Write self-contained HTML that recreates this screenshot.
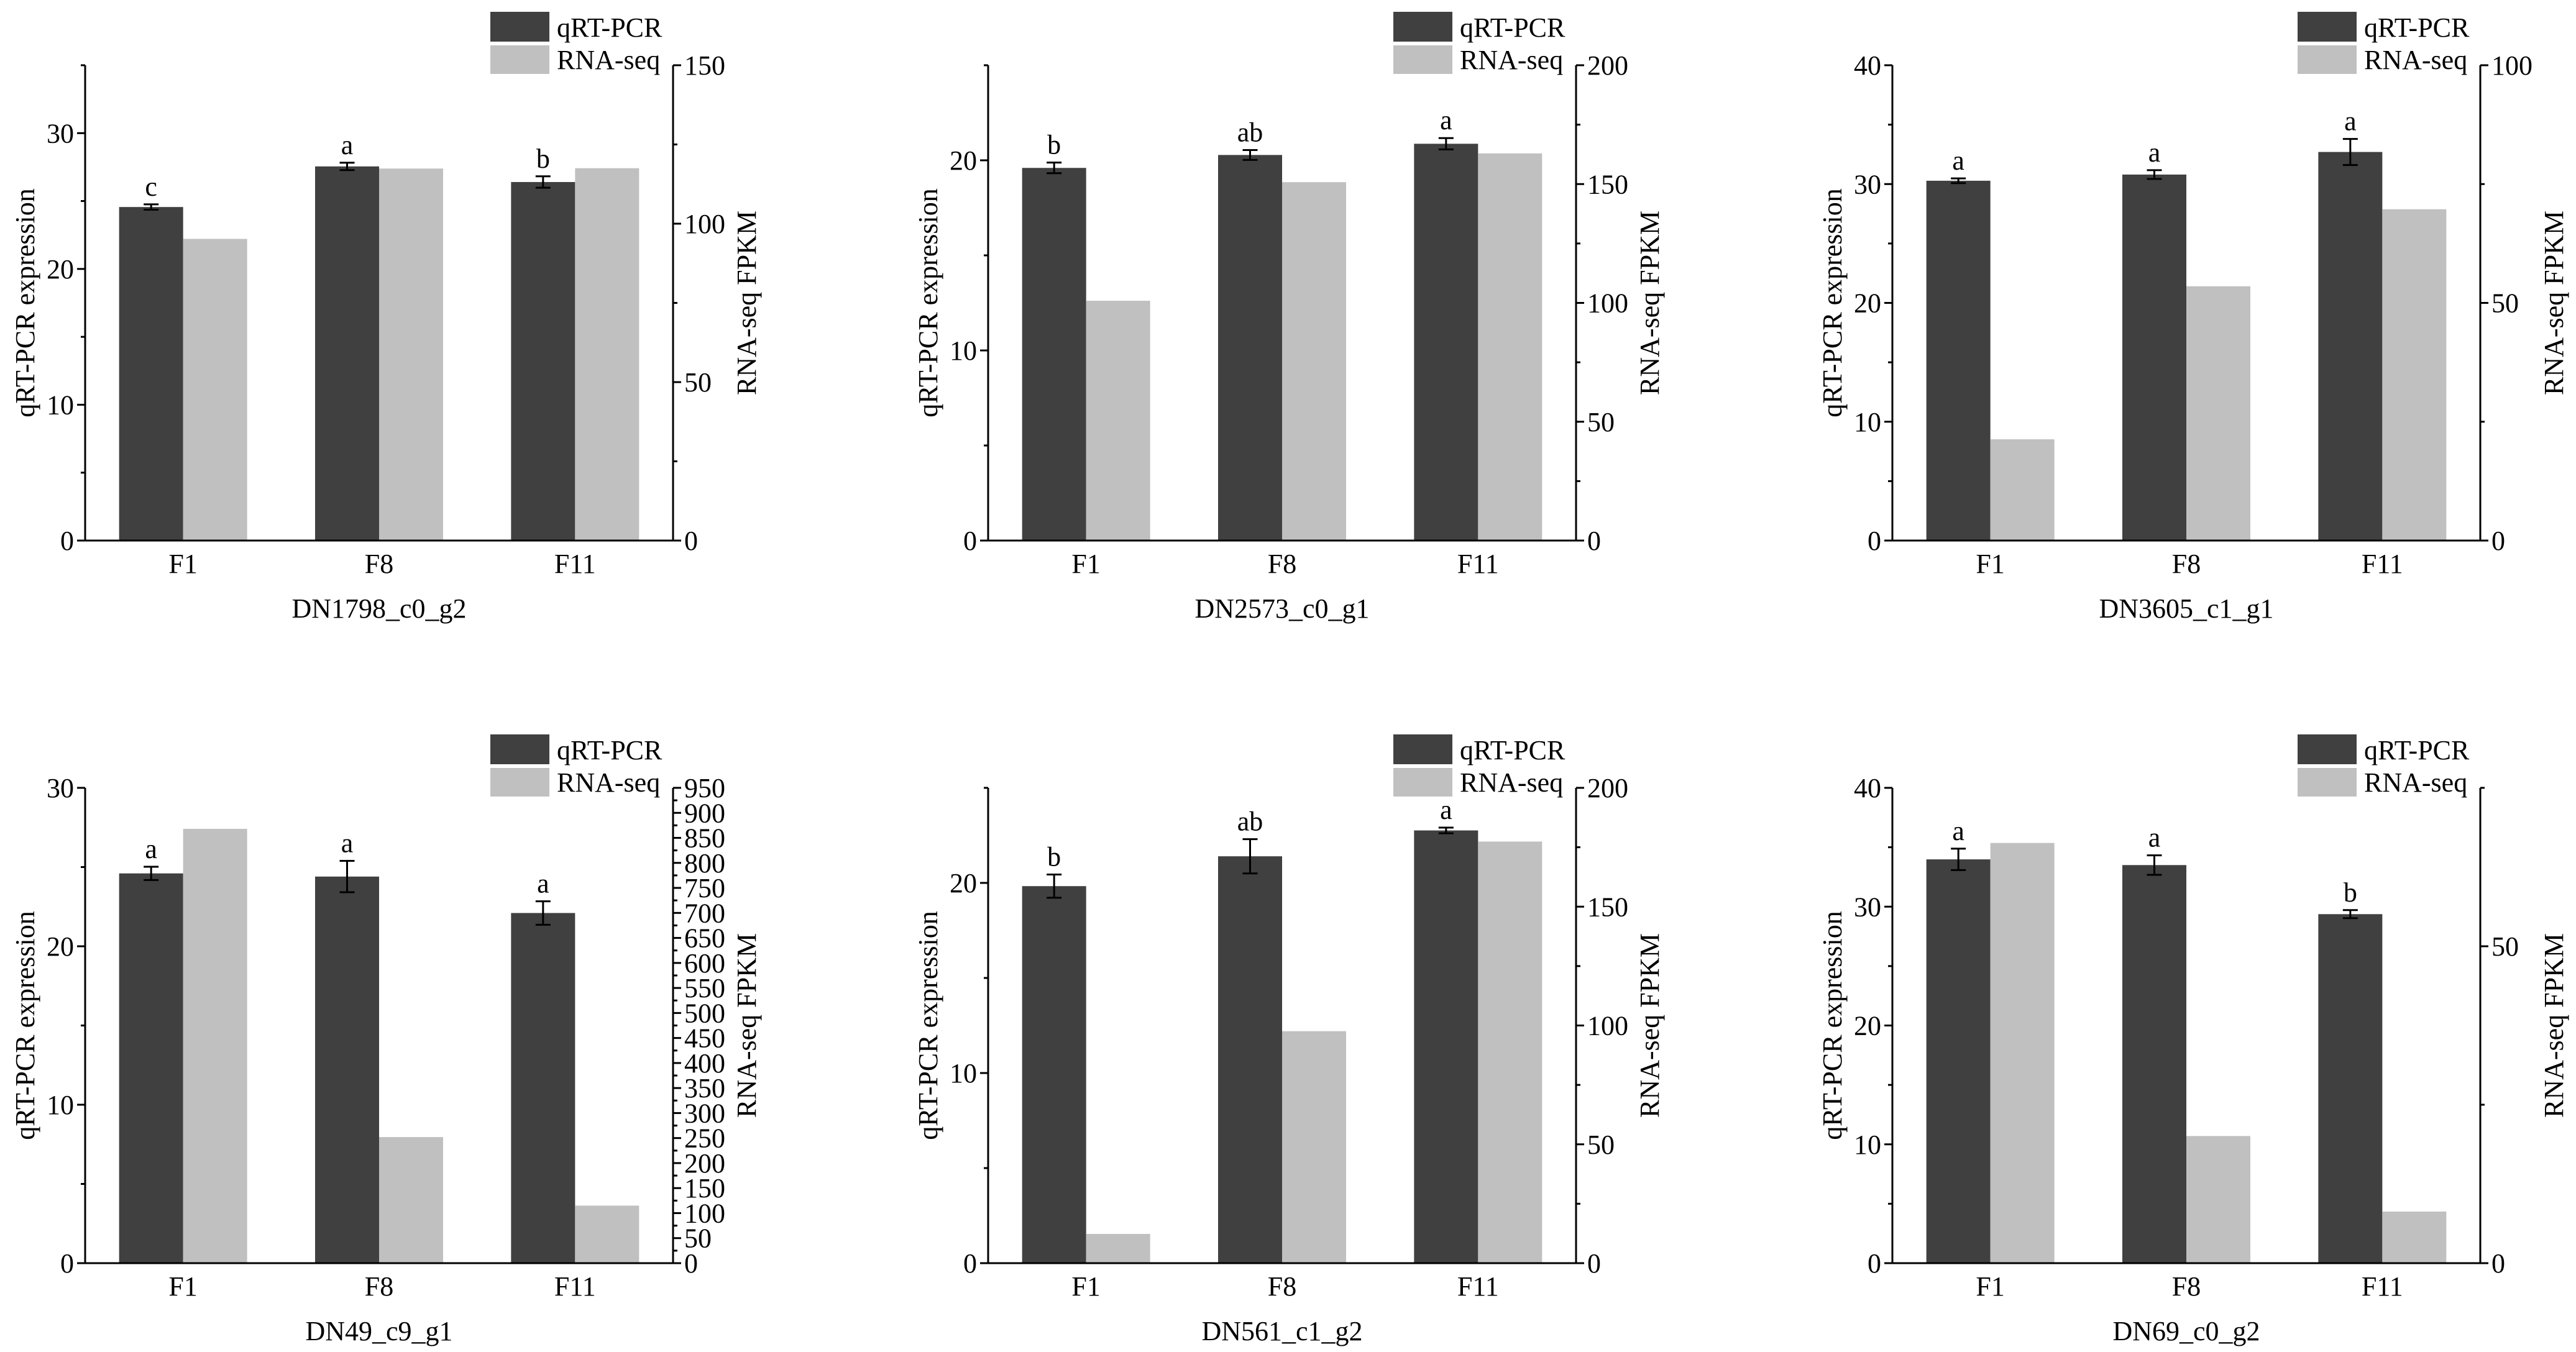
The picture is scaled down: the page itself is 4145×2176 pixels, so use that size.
<!DOCTYPE html>
<html><head><meta charset="utf-8">
<style>
html,body{margin:0;padding:0;background:#fff;}
svg{display:block;}
text{font-family:"Liberation Serif",serif;fill:#000;}
</style></head>
<body>
<svg id="fig" width="4145" height="2176" viewBox="0 0 4145 2176" xmlns="http://www.w3.org/2000/svg"></svg>
<script>
const categories = ["F1","F8","F11"];
const geneNames = ["DN1798_c0_g2","DN2573_c0_g1","DN3605_c1_g1","DN49_c9_g1","DN561_c1_g2","DN69_c0_g2"];
const qrt1 = [24.56, 27.55, 26.4];   const err1 = [0.2, 0.27, 0.42];  const rna1 = [95.2, 117.4, 117.5];  const sig1 = ["c","a","b"];
const qrt2 = [19.6, 20.28, 20.87];   const err2 = [0.28, 0.26, 0.3];  const rna2 = [100.9, 150.8, 162.9]; const sig2 = ["b","ab","a"];
const qrt3 = [30.28, 30.8, 32.7];    const err3 = [0.2, 0.37, 1.1];   const rna3 = [21.3, 53.5, 69.7];    const sig3 = ["a","a","a"];
const qrt4 = [24.6, 24.4, 22.1];     const err4 = [0.42, 0.99, 0.74]; const rna4 = [868, 252, 115];       const sig4 = ["a","a","a"];
const qrt5 = [19.83, 21.4, 22.76];   const err5 = [0.61, 0.9, 0.15];  const rna5 = [12.3, 97.6, 177.4];   const sig5 = ["b","ab","a"];
const qrt6 = [33.98, 33.5, 29.37];   const err6 = [0.9, 0.82, 0.34];  const rna6 = [66.3, 20.06, 8.14];   const sig6 = ["a","a","b"];
const leftMax   = [35, 25, 40, 30, 25, 40];
const leftMajor = [10, 10, 10, 10, 10, 10];
const rightMax  = [150, 200, 100, 950, 200, 75];
const rightMajor= [50, 50, 50, 50, 50, 50];

const NS = "http://www.w3.org/2000/svg";
const svg = document.getElementById("fig");
function mk(tag, attrs, parent){
  const e = document.createElementNS(NS, tag);
  for (const k in attrs) e.setAttribute(k, attrs[k]);
  (parent||svg).appendChild(e);
  return e;
}
const qrts=[qrt1,qrt2,qrt3,qrt4,qrt5,qrt6], errs=[err1,err2,err3,err4,err5,err6],
      rnas=[rna1,rna2,rna3,rna4,rna5,rna6], sigs=[sig1,sig2,sig3,sig4,sig5,sig6];
const lefts=[137,1590,3045], tops=[105,1268], W=946, H=765;

for (let p=0;p<6;p++){
  const L=lefts[p%3], T=tops[Math.floor(p/3)], R=L+W, B=T+H;
  const g = mk("g",{});
  
  
  const yL = v => B - v/leftMax[p]*H;
  const yR = v => B - v/rightMax[p]*H;
  const xC = i => L + (i+0.5)*W/3;
  const bw = 103;
  for (let i=0;i<3;i++){
    const d = mk("rect",{x:xC(i)-bw,y:yL(qrts[p][i]),width:bw,height:B-yL(qrts[p][i]),fill:"#404040"},g);
    
    
    const l = mk("rect",{x:xC(i),y:yR(rnas[p][i]),width:bw,height:B-yR(rnas[p][i]),fill:"#c0c0c0"},g);
    
    
    const cx = xC(i)-bw/2, yt=yL(qrts[p][i]+errs[p][i]), yb=yL(qrts[p][i]-errs[p][i]);
    const eb = mk("path",{d:`M${cx},${yt}V${yb}M${cx-12},${yt}H${cx+12}M${cx-12},${yb}H${cx+12}`,stroke:"#000","stroke-width":3,fill:"none"},g);
    
    
    const s = mk("text",{x:cx,y:yt-14,"font-size":44,"text-anchor":"middle"},g);
    s.textContent = sigs[p][i];
    
    
    const xl = mk("text",{x:xC(i),y:B+52,"font-size":44,"text-anchor":"middle"},g);
    xl.textContent = categories[i];
    
    
  }
  const ax = mk("path",{d:`M${L},${T}V${B}H${R}V${T}`,stroke:"#000","stroke-width":3,fill:"none"},g);
  
  
  const lm = leftMajor[p];
  for (let v=0; v<=leftMax[p]+1e-9; v+=lm/2){
    const major = Math.abs(v/lm - Math.round(v/lm))<1e-6;
    const y=yL(v);
    mk("line",{x1:L,x2:L-(major?13:7),y1:y,y2:y,stroke:"#000","stroke-width":3},g);
    if (major){
      const t = mk("text",{x:L-18,y:y+15,"font-size":44,"text-anchor":"end"},g);
      t.textContent = v;
      
      
    }
  }
  const rm = rightMajor[p];
  for (let v=0; v<=rightMax[p]+1e-9; v+=rm/2){
    const major = Math.abs(v/rm - Math.round(v/rm))<1e-6;
    const y=yR(v);
    mk("line",{x1:R,x2:R+(major?13:7),y1:y,y2:y,stroke:"#000","stroke-width":3},g);
    if (major){
      const t = mk("text",{x:R+18,y:y+15,"font-size":44},g);
      t.textContent = v;
      
      
    }
  }
  const lt = mk("text",{x:0,y:0,"font-size":44,"text-anchor":"middle",transform:`translate(${L-82},${(T+B)/2}) rotate(-90)`},g);
  lt.textContent = "qRT-PCR expression";
  
  
  const rt = mk("text",{x:0,y:0,"font-size":44,"text-anchor":"middle",transform:`translate(${R+133},${(T+B)/2}) rotate(-90)`},g);
  rt.textContent = "RNA-seq FPKM";
  
  
  const xt = mk("text",{x:L+W/2,y:B+124,"font-size":44,"text-anchor":"middle"},g);
  xt.textContent = geneNames[p];
  
  
  const lg = mk("g",{},g);
  
  
  mk("rect",{x:R-294,y:T-86,width:95,height:48,fill:"#404040"},lg);
  mk("rect",{x:R-294,y:T-32,width:95,height:46,fill:"#c0c0c0"},lg);
  const t1 = mk("text",{x:R-187,y:T-46,"font-size":44},lg);
  t1.textContent = "qRT-PCR";
  
  
  const t2 = mk("text",{x:R-187,y:T+6,"font-size":44},lg);
  t2.textContent = "RNA-seq";
  
  
}
</script>
</body></html>
